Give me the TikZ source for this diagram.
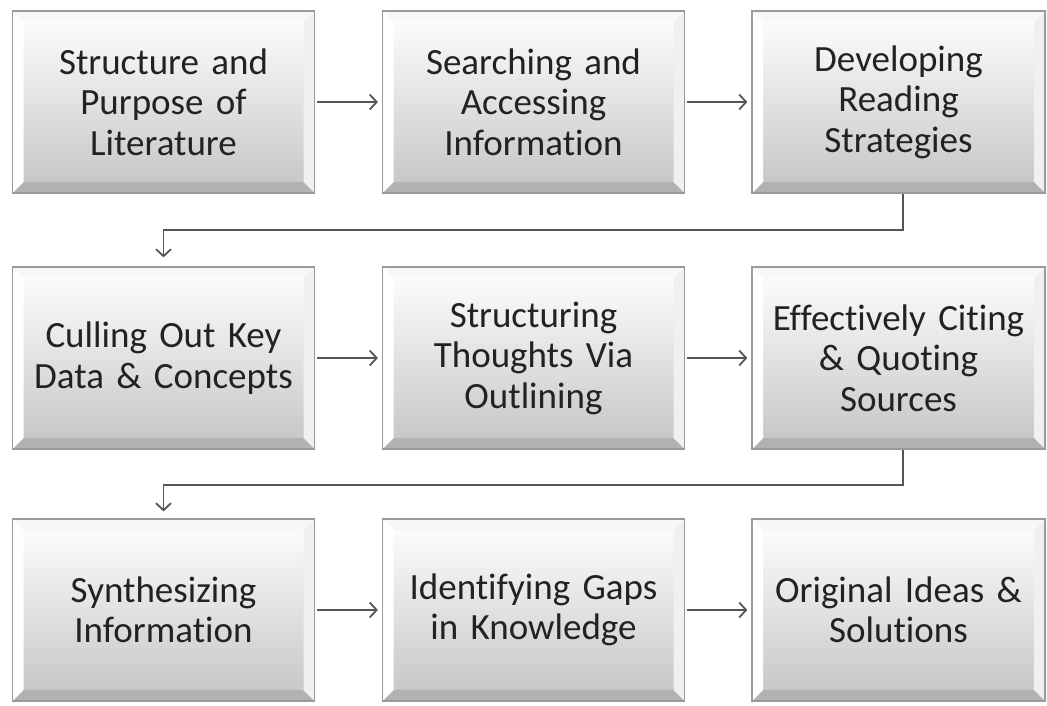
\documentclass[tikz,border=0pt]{standalone}
\usepackage{fontspec}
\setmainfont{Carlito}[Ligatures=CommonOff,WordSpace=0.75]
\usetikzlibrary{arrows.meta,calc}
\definecolor{edgegray}{HTML}{9A9A9A}
\definecolor{linegray}{HTML}{555555}
\definecolor{txtgray}{HTML}{222222}
\tikzset{
  stepbox/.style={draw=edgegray, line width=1.2pt, minimum width=#1, minimum height=182pt,
    inner sep=0pt, text width=#1-16pt, align=center, text=txtgray,
    font=\fontsize{37}{40.5}\selectfont,
    top color=white, bottom color=black!23,
    path picture={
      \def\b{11pt}
      \coordinate (SW) at (path picture bounding box.south west);
      \coordinate (SE) at (path picture bounding box.south east);
      \coordinate (NW) at (path picture bounding box.north west);
      \coordinate (NE) at (path picture bounding box.north east);
      \fill[black!30] (SW) -- (SE) -- ([shift={(-\b,\b)}]SE) -- ([shift={(\b,\b)}]SW) -- cycle;
      \fill[white] (SW) -- ([shift={(\b,\b)}]SW) -- ([shift={(\b,-\b)}]NW) -- (NW) -- cycle;
      \fill[black!6] (NE) -- ([shift={(-\b,-\b)}]NE) -- ([shift={(-\b,\b)}]SE) -- (SE) -- cycle;
      \fill[black!3] (NW) -- (NE) -- ([shift={(-\b,-\b)}]NE) -- ([shift={(\b,-\b)}]NW) -- cycle;
    }},
  stepbox/.default=302pt,
  conn/.style={draw=linegray, line width=1.8pt,
    -{Straight Barb[length=7pt,width=15pt,line width=1.8pt]}},
}
\begin{document}
\begin{tikzpicture}[x=1pt,y=1pt]
\useasboundingbox (0,0) rectangle (1047,-706);
\fill[white] (0,0) rectangle (1047,-706);
% row 1
\node[stepbox] (n1) at (163.5,-102) {Structure and\\Purpose of\\Literature};
\node[stepbox] (n2) at (533.5,-102) {Searching and\\Accessing\\Information};
\node[stepbox=293pt] (n3) at (898.5,-102) {Developing\\Reading\\Strategies};
% row 2
\node[stepbox] (n4) at (163.5,-358) {Culling Out Key\\Data \& Concepts};
\node[stepbox] (n5) at (533.5,-358) {Structuring\\Thoughts Via\\Outlining};
\node[stepbox=293pt] (n6) at (898.5,-358) {Effectively Citing\\\& Quoting\\Sources};
% row 3
\node[stepbox] (n7) at (163.5,-610) {Synthesizing\\Information};
\node[stepbox] (n8) at (533.5,-610) {Identifying Gaps\\in Knowledge};
\node[stepbox=293pt] (n9) at (898.5,-610) {Original Ideas \&\\Solutions};
% connectors
\draw[conn, shorten <=2pt, shorten >=4pt] (n1) -- (n2);
\draw[conn, shorten <=2pt, shorten >=4pt] (n2) -- (n3);
\draw[conn, shorten <=2pt, shorten >=4pt] (n4) -- (n5);
\draw[conn, shorten <=2pt, shorten >=4pt] (n5) -- (n6);
\draw[conn, shorten <=2pt, shorten >=4pt] (n7) -- (n8);
\draw[conn, shorten <=2pt, shorten >=4pt] (n8) -- (n9);
\draw[conn, shorten >=9pt] ([xshift=4.5pt]n3.south) -- ++(0,-36) -| (n4.north);
\draw[conn, shorten >=7pt] ([xshift=4.5pt]n6.south) -- ++(0,-35) -| (n7.north);
\end{tikzpicture}
\end{document}
